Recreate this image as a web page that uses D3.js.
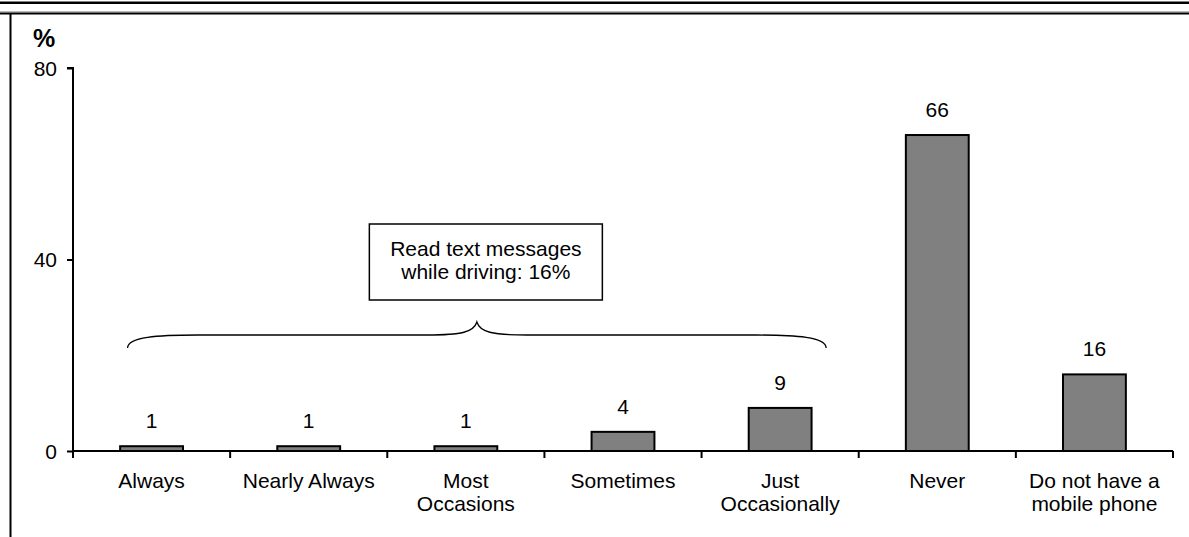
<!doctype html>
<html>
<head>
<meta charset="utf-8">
<script src="https://d3js.org/d3.v7.min.js"></script>
<style>
  body { margin: 0; background: #fff; }
  svg text { font-family: "Liberation Sans", Arial, sans-serif; fill: #000; }
</style>
</head>
<body>
<svg id="chart" width="1189" height="537"></svg>
<script>
const categories = [
  ["Always"],
  ["Nearly Always"],
  ["Most", "Occasions"],
  ["Sometimes"],
  ["Just", "Occasionally"],
  ["Never"],
  ["Do not have a", "mobile phone"]
];
const values = [1, 1, 1, 4, 9, 66, 16];
const yTicks = [0, 40, 80];
const noteLines = ["Read text messages", "while driving: 16%"];
const braceFrom = 0, braceTo = 4;

const fs = '21px';
const svg = d3.select('#chart');
const width = +svg.attr('width');
const height = +svg.attr('height');
const margin = {top: 68, right: 15, bottom: 86, left: 73};

// page frame lines
svg.append('rect').attr('x', 0).attr('y', 1.5).attr('width', width).attr('height', 2.5).attr('fill', '#000');
svg.append('rect').attr('x', 0).attr('y', 11.5).attr('width', width).attr('height', 1.2).attr('fill', '#777');
svg.append('rect').attr('x', 0).attr('y', 12.7).attr('width', width).attr('height', 1.8).attr('fill', '#000');
svg.append('rect').attr('x', 9.5).attr('y', 13).attr('width', 2).attr('height', height - 13).attr('fill', '#000');

const x = d3.scaleBand()
  .domain(d3.range(categories.length))
  .range([margin.left, width - margin.right - 1]);
const y = d3.scaleLinear()
  .domain([0, 80])
  .range([height - margin.bottom, margin.top]);

const barW = x.bandwidth() * 0.4;

// bars
svg.append('g').selectAll('rect')
  .data(values)
  .join('rect')
  .attr('x', (d, i) => x(i) + x.bandwidth() / 2 - barW / 2)
  .attr('y', d => y(d))
  .attr('width', barW)
  .attr('height', d => y(0) - y(d))
  .attr('fill', '#808080')
  .attr('stroke', '#000')
  .attr('stroke-width', 2);

// value labels
svg.append('g').selectAll('text')
  .data(values)
  .join('text')
  .attr('x', (d, i) => x(i) + x.bandwidth() / 2)
  .attr('y', d => y(d) - 18)
  .attr('text-anchor', 'middle')
  .style('font-size', fs)
  .text(d => d);

// y axis
const yAxis = svg.append('g')
  .attr('transform', `translate(${margin.left},0)`)
  .call(d3.axisLeft(y).tickValues(yTicks).tickSize(6).tickPadding(10));
yAxis.selectAll('text').style('font-size', fs).attr('dy', '0.35em');
yAxis.selectAll('line, path').attr('stroke', '#000').attr('stroke-width', 2);
yAxis.select('.domain').attr('d', `M-6,${y(80)}H0V${y(0)}`);

// x axis with ticks at band edges
const xg = svg.append('g');
xg.append('line')
  .attr('x1', x.range()[0]).attr('x2', x.range()[1])
  .attr('y1', y(0)).attr('y2', y(0))
  .attr('stroke', '#000').attr('stroke-width', 2);
const edges = d3.range(categories.length + 1).map(i => i < categories.length ? x(i) : x.range()[1]);
xg.selectAll('line.tick')
  .data(edges)
  .join('line')
  .attr('class', 'tick')
  .attr('x1', d => d).attr('x2', d => d)
  .attr('y1', y(0)).attr('y2', y(0) + 7)
  .attr('stroke', '#000').attr('stroke-width', 2);

const catText = xg.selectAll('text.cat')
  .data(categories)
  .join('text')
  .attr('class', 'cat')
  .attr('text-anchor', 'middle')
  .style('font-size', fs);
catText.selectAll('tspan')
  .data((d, i) => d.map(t => ({t, i})))
  .join('tspan')
  .attr('x', d => x(d.i) + x.bandwidth() / 2)
  .attr('y', (d, j) => y(0) + 37 + j * 23)
  .text(d => d.t);

// "%" unit label
svg.append('text')
  .attr('x', 44).attr('y', 47)
  .attr('text-anchor', 'middle')
  .style('font-size', '25px')
  .style('font-weight', 'bold')
  .text('%');

// brace spanning first five categories
const bx0 = x(braceFrom) + x.bandwidth() / 2 - 24;
const bx1 = x(braceTo) + x.bandwidth() / 2 + 46;
const bm = (bx0 + bx1) / 2;
const by = 335, byEnd = 348, byTip = 322;
const brace = d3.path();
brace.moveTo(bx0, byEnd);
brace.bezierCurveTo(bx0, by + 2, bx0 + 30, by, bx0 + 70, by);
brace.lineTo(bm - 50, by);
brace.bezierCurveTo(bm - 15, by, bm - 3, by - 3, bm, byTip);
brace.bezierCurveTo(bm + 3, by - 3, bm + 15, by, bm + 50, by);
brace.lineTo(bx1 - 70, by);
brace.bezierCurveTo(bx1 - 30, by, bx1, by + 2, bx1, byEnd);
svg.append('path')
  .attr('d', brace.toString())
  .attr('fill', 'none')
  .attr('stroke', '#000')
  .attr('stroke-width', 1.3);

// note box
const boxW = 233, boxH = 76;
svg.append('rect')
  .attr('x', bm + 9 - boxW / 2).attr('y', 224)
  .attr('width', boxW).attr('height', boxH)
  .attr('fill', '#fff')
  .attr('stroke', '#000')
  .attr('stroke-width', 1.5);
svg.append('g').selectAll('text')
  .data(noteLines)
  .join('text')
  .attr('x', bm + 9)
  .attr('y', (d, i) => 256 + i * 23)
  .attr('text-anchor', 'middle')
  .style('font-size', fs)
  .text(d => d);
</script>
</body>
</html>
